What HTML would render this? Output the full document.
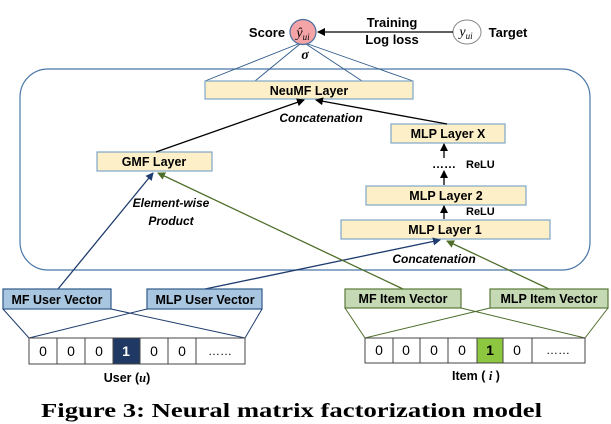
<!DOCTYPE html>
<html><head><meta charset="utf-8"><style>
html,body{margin:0;padding:0;background:#fff;width:611px;height:424px;overflow:hidden}
svg{display:block}
text{font-family:"Liberation Sans",sans-serif}
</style></head><body>
<svg width="611" height="424" viewBox="0 0 611 424" xmlns="http://www.w3.org/2000/svg">
<defs>
<marker id="ak" markerWidth="8" markerHeight="8" refX="7" refY="4" orient="auto" markerUnits="userSpaceOnUse"><path d="M0,0 L8,4 L0,8 z" fill="#000"/></marker>
<marker id="ab" markerWidth="8" markerHeight="8" refX="7" refY="4" orient="auto" markerUnits="userSpaceOnUse"><path d="M0,0 L8,4 L0,8 z" fill="#1f3c6e"/></marker>
<marker id="ag" markerWidth="8" markerHeight="8" refX="7" refY="4" orient="auto" markerUnits="userSpaceOnUse"><path d="M0,0 L8,4 L0,8 z" fill="#4e6e2a"/></marker>
</defs>
<rect x="20" y="69" width="570" height="201" rx="28" fill="none" stroke="#4a78a8" stroke-width="1.2"/>
<ellipse cx="303" cy="32" rx="13" ry="12.5" fill="#f4a3a6" stroke="#4a6e9c" stroke-width="1.2"/>
<text x="303" y="37" font-style="italic" font-size="14" text-anchor="middle" style="font-family:'Liberation Serif',serif">ŷ<tspan font-size="9" dy="3">ui</tspan></text>
<ellipse cx="467" cy="32" rx="14" ry="12" fill="#fff" stroke="#888" stroke-width="1"/>
<text x="466" y="36" font-style="italic" font-size="14" text-anchor="middle" style="font-family:'Liberation Serif',serif">y<tspan font-size="9" dy="3">ui</tspan></text>
<line x1="453" y1="32" x2="318" y2="32" stroke="#000" stroke-width="1.3" marker-end="url(#ak)"/>
<text x="392" y="27" font-size="13" font-weight="bold" text-anchor="middle">Training</text>
<text x="392" y="44" font-size="13" font-weight="bold" text-anchor="middle">Log loss</text>
<text x="267" y="37" font-size="13" font-weight="bold" text-anchor="middle">Score</text>
<text x="508" y="37" font-size="13" font-weight="bold" text-anchor="middle">Target</text>
<text x="305" y="59" font-size="14" font-style="italic" font-weight="bold" text-anchor="middle" style="font-family:'Liberation Serif',serif">σ</text>
<g stroke="#2f5a8a" stroke-width="0.9">
<line x1="298" y1="44" x2="205" y2="81"/><line x1="300" y1="44" x2="255" y2="81"/>
<line x1="306" y1="44" x2="362" y2="81"/><line x1="308" y1="44" x2="413" y2="81"/>
</g>
<g fill="#fdf0c8" stroke="#7ea6c8" stroke-width="1.2">
<rect x="205" y="81" width="208" height="18"/>
<rect x="97" y="152" width="115" height="19"/>
<rect x="391" y="124" width="114" height="19"/>
<rect x="366" y="186" width="160" height="19"/>
<rect x="341" y="220" width="209" height="19"/>
</g>
<g font-size="12.5" font-weight="bold" text-anchor="middle">
<text x="309" y="95">NeuMF Layer</text>
<text x="154" y="166">GMF Layer</text>
<text x="448" y="138">MLP Layer X</text>
<text x="446" y="200">MLP Layer 2</text>
<text x="445" y="234">MLP Layer 1</text>
</g>
<line x1="156" y1="152" x2="304" y2="100" stroke="#000" stroke-width="1.3" marker-end="url(#ak)"/>
<line x1="447" y1="124" x2="316" y2="100" stroke="#000" stroke-width="1.3" marker-end="url(#ak)"/>
<line x1="444" y1="219" x2="444" y2="206" stroke="#000" stroke-width="1.3" marker-end="url(#ak)"/>
<line x1="444" y1="185" x2="444" y2="171" stroke="#000" stroke-width="1.3" marker-end="url(#ak)"/>
<line x1="444" y1="158" x2="444" y2="144" stroke="#000" stroke-width="1.3" marker-end="url(#ak)"/>
<text x="444" y="168" font-size="12" font-weight="bold" text-anchor="middle">……</text>
<text x="466" y="168" font-size="11" font-weight="bold">ReLU</text>
<text x="466" y="215" font-size="11" font-weight="bold">ReLU</text>
<g font-size="12" font-weight="bold" font-style="italic" text-anchor="middle">
<text x="321" y="122">Concatenation</text>
<text x="434" y="263">Concatenation</text>
<text x="171" y="207">Element-wise</text>
<text x="171" y="225">Product</text>
</g>
<line x1="58" y1="289" x2="153" y2="173" stroke="#1f3c6e" stroke-width="1.3" marker-end="url(#ab)"/>
<line x1="205" y1="289" x2="440" y2="240" stroke="#1f3c6e" stroke-width="1.3" marker-end="url(#ab)"/>
<line x1="403" y1="289" x2="158" y2="173" stroke="#4e6e2a" stroke-width="1.3" marker-end="url(#ag)"/>
<line x1="549" y1="289" x2="447" y2="241" stroke="#4e6e2a" stroke-width="1.3" marker-end="url(#ag)"/>
<rect x="3" y="289" width="108" height="20" fill="#a9c6e0" stroke="#2f5a8a" stroke-width="1.2"/>
<rect x="147" y="289" width="115" height="20" fill="#a9c6e0" stroke="#2f5a8a" stroke-width="1.2"/>
<rect x="345" y="289" width="116" height="19" fill="#c5d9b4" stroke="#5a7a3a" stroke-width="1.2"/>
<rect x="490" y="289" width="118" height="19" fill="#c5d9b4" stroke="#5a7a3a" stroke-width="1.2"/>
<g font-size="12.5" font-weight="bold" text-anchor="middle">
<text x="57" y="304">MF User Vector</text>
<text x="205" y="304">MLP User Vector</text>
<text x="403" y="303">MF Item Vector</text>
<text x="549" y="303">MLP Item Vector</text>
</g>
<g stroke="#1f3c6e" stroke-width="1">
<line x1="3" y1="309" x2="29" y2="338"/><line x1="111" y1="309" x2="245" y2="338"/>
<line x1="147" y1="309" x2="29" y2="338"/><line x1="262" y1="309" x2="245" y2="338"/>
</g>
<g stroke="#4e6e2a" stroke-width="1">
<line x1="345" y1="308" x2="365" y2="338"/><line x1="461" y1="308" x2="585" y2="338"/>
<line x1="490" y1="308" x2="365" y2="338"/><line x1="608" y1="308" x2="585" y2="338"/>
</g>
<g stroke="#444" stroke-width="1" fill="#fff">
<rect x="29" y="338" width="28" height="26"/><rect x="57" y="338" width="28" height="26"/><rect x="85" y="338" width="28" height="26"/>
<rect x="113" y="338" width="27" height="26" fill="#1f3864"/><rect x="140" y="338" width="28" height="26"/><rect x="168" y="338" width="28" height="26"/><rect x="196" y="338" width="49" height="26"/>
<rect x="365" y="338" width="28" height="25"/><rect x="393" y="338" width="27" height="25"/><rect x="420" y="338" width="28" height="25"/><rect x="448" y="338" width="29" height="25"/>
<rect x="477" y="338" width="26" height="25" fill="#8dc63f"/><rect x="503" y="338" width="29" height="25"/><rect x="532" y="338" width="53" height="25"/>
</g>
<g font-size="14" text-anchor="middle">
<text x="43" y="356">0</text><text x="71" y="356">0</text><text x="99" y="356">0</text>
<text x="126" y="356" fill="#fff" font-weight="bold">1</text><text x="154" y="356">0</text><text x="182" y="356">0</text>
<text x="220" y="355" font-size="12">……</text>
<text x="379" y="355">0</text><text x="406" y="355">0</text><text x="434" y="355">0</text><text x="462" y="355">0</text>
<text x="490" y="355" font-weight="bold">1</text><text x="517" y="355">0</text>
<text x="558" y="354" font-size="12">……</text>
</g>
<text x="127" y="382" font-size="12.5" font-weight="bold" text-anchor="middle">User (<tspan font-style="italic" style="font-family:'Liberation Serif',serif">u</tspan>)</text>
<text x="476" y="380" font-size="12.5" font-weight="bold" text-anchor="middle">Item ( <tspan font-style="italic" style="font-family:'Liberation Serif',serif">i</tspan> )</text>
<text x="41" y="417" font-size="20" font-weight="bold" textLength="501" lengthAdjust="spacingAndGlyphs" style="font-family:'Liberation Serif',serif">Figure 3: Neural matrix factorization model</text>
</svg>
</body></html>
